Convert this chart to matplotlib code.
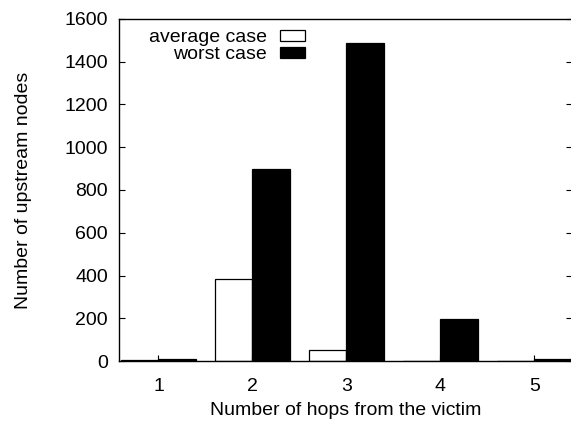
import matplotlib
matplotlib.use("Agg")
import matplotlib.pyplot as plt
import numpy as np

plt.rcParams["font.family"] = ["Liberation Sans", "DejaVu Sans"]

hops = [1, 2, 3, 4, 5]
average_case = [4, 385, 50, 2, 1]
worst_case = [8, 900, 1490, 197, 8]
y_ticks = [0, 200, 400, 600, 800, 1000, 1200, 1400, 1600]

fig = plt.figure(figsize=(5.71, 4.21), dpi=100)
ax = fig.add_axes([119 / 571, 1 - 361 / 421, 453 / 571, 342 / 421])

x = np.array(hops)
width = 0.4
ax.bar(x - width / 2, average_case, width, color="white", edgecolor="black",
       linewidth=0.9, label="average case")
ax.bar(x + width / 2, worst_case, width, color="black", edgecolor="black",
       linewidth=0.9, label="worst case")

ax.set_xlim(0.58, 5.4)
ax.set_ylim(0, 1600)
ax.set_xticks(hops)
ax.set_yticks(y_ticks)
ax.tick_params(axis="x", direction="in", length=4, top=False, labelsize=14, pad=12)
ax.tick_params(axis="y", direction="in", length=4, right=True, labelsize=14, pad=8)
for s in ax.spines.values():
    s.set_linewidth(1.0)

ax.set_xlabel("Number of hops from the victim", fontsize=14, labelpad=5.5)
ax.set_ylabel("Number of upstream nodes", fontsize=14, labelpad=23)

ax.legend(loc="upper right", bbox_to_anchor=(0.41, 0.97), frameon=False,
          fontsize=14, markerfirst=False, handlelength=1.25, handleheight=0.46,
          handletextpad=0.7, labelspacing=0.0, borderaxespad=0, borderpad=0)

fig.savefig("out.png", dpi=100)
